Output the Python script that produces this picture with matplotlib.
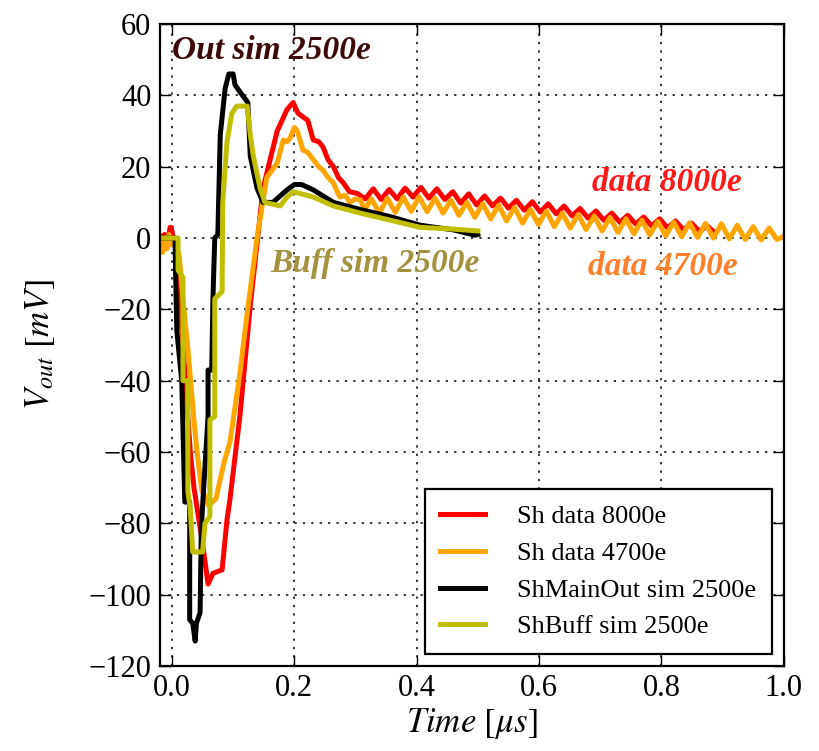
import numpy as np
import matplotlib
matplotlib.use("Agg")
import matplotlib.pyplot as plt

plt.rcParams['font.family'] = ['Liberation Serif', 'DejaVu Serif']
plt.rcParams['mathtext.fontset'] = 'stix'
plt.rcParams['axes.unicode_minus'] = True

# Sh data 8000e: pulse part, then ringing tail (half-period samples)
red_t = [-0.02, -0.012, -0.006, -0.003, -0.001, 0.002, 0.005, 0.008, 0.020, 0.030,
         0.036, 0.045, 0.052, 0.059, 0.067, 0.082, 0.090, 0.095, 0.111, 0.128,
         0.149, 0.172, 0.188, 0.198, 0.206, 0.214, 0.222, 0.231, 0.240, 0.247,
         0.255, 0.264, 0.272, 0.280, 0.290, 0.303]
red_v = [0, 1, 0, 3, 3, 0, 0, -6, -35, -60,
         -70, -80, -88, -97, -94, -93, -79, -73, -50, -19,
         14, 30, 36, 38, 35, 34, 33, 27.5, 27, 25.5,
         22, 20, 17, 15.5, 13, 12.5]
red_tail_t0 = 0.316
red_tail_dt = 0.013
red_tail_v = [11, 13.8, 10.8, 13.6, 11, 14, 11.5, 14.2, 11.2, 13.8,
              10.8, 13, 9.8, 12.4, 9.3, 11.8, 9, 11.2, 8.4, 10.6,
              7.8, 10.2, 7.3, 9.6, 6.8, 9, 6.2, 8.3, 5.6, 7.6,
              5, 7, 4.4, 6.4, 3.9, 5.9, 3.4, 5.4, 2.9, 4.8,
              2.3, 4.2, 1.9, 3.4, 1.4]

# Sh data 4700e
org_t = [-0.02, -0.015, -0.012, -0.008, -0.005, 0.0, 0.005, 0.008, 0.012, 0.018,
         0.026, 0.031, 0.036, 0.041, 0.049, 0.053, 0.060, 0.072, 0.085, 0.095,
         0.111, 0.123, 0.139, 0.155, 0.172, 0.182, 0.188, 0.193, 0.200, 0.205,
         0.214, 0.222, 0.231, 0.240, 0.247, 0.255, 0.264, 0.270, 0.275, 0.283,
         0.291, 0.300, 0.308, 0.315]
org_v = [0, -4, 0, -3, 1, -2, 0, -3, -5, -17,
         -31, -41, -51, -60, -71, -72, -75, -73, -63, -57,
         -38, -21, 0, 17, 21, 27.5, 27, 28, 31, 30,
         24.7, 24, 22, 20, 19, 17, 15.5, 13, 11.5, 12,
         10, 11, 10.7, 8]
org_tail_t0 = 0.326
org_tail_dt = 0.013
org_tail_v = [11, 7, 11.2, 7.2, 11.5, 7.5, 11.6, 7.4, 11.2, 7,
              10.6, 6.4, 10, 5.8, 9.6, 5.4, 9.2, 4.8, 8.6, 4.2,
              8, 3.8, 7.6, 3.2, 7, 2.8, 6.6, 2.4, 6.2, 2,
              5.8, 1.6, 5.4, 1.2, 5, 0.9, 4.7, 0.6, 4.5, 0.4,
              4.3, 0.2, 4.1, 0, 4, -0.2, 3.6, -0.4, 3.2, -0.5,
              2.8, -0.4]

# ShMainOut sim 2500e
blk_t = [-0.02, 0.005, 0.006, 0.008, 0.016, 0.021, 0.029, 0.029, 0.034, 0.038,
         0.040, 0.046, 0.048, 0.059, 0.059, 0.065, 0.067, 0.070, 0.075, 0.079,
         0.087, 0.093, 0.100, 0.103, 0.111, 0.124, 0.128, 0.139, 0.149, 0.165,
         0.188, 0.200, 0.212, 0.231, 0.264, 0.308, 0.357, 0.406, 0.460, 0.495, 0.500]
blk_v = [0, 0, -10, -26, -40, -74, -74, -107, -108, -113,
         -108, -105, -81, -50, -37, -37, -17, 0, 1, 29,
         42, 46, 46, 43, 41, 38, 23, 14, 10, 10,
         13.5, 15, 15, 13.5, 10, 8, 6, 3.6, 2.3, 0.8, 1]

# ShBuff sim 2500e
yel_t = [-0.02, 0.010, 0.010, 0.018, 0.018, 0.026, 0.026, 0.030, 0.034, 0.050,
         0.054, 0.062, 0.062, 0.070, 0.070, 0.082, 0.083, 0.090, 0.098, 0.106,
         0.123, 0.128, 0.133, 0.144, 0.152, 0.177, 0.188, 0.198, 0.231, 0.264,
         0.308, 0.357, 0.406, 0.460, 0.500]
yel_v = [0, 0, -9, -11, -40, -40, -71, -76, -88, -88,
         -80, -78, -51, -50, -17, -15, 10, 27, 35, 37,
         37, 29, 23, 14, 10, 9, 11.5, 13, 11.5, 9,
         7, 5, 3, 2.5, 2]

red_x = red_t + [red_tail_t0 + red_tail_dt * i for i in range(len(red_tail_v))]
red_y = red_v + red_tail_v
org_x = org_t + [org_tail_t0 + org_tail_dt * i for i in range(len(org_tail_v))] + [1.0]
org_y = org_v + org_tail_v + [0.5]

fig = plt.figure(figsize=(8.19, 7.51), dpi=100)
ax = fig.add_axes([0.195, 0.113, 0.762, 0.855])

lw = 3.6
ax.plot(red_x, red_y, color='#ff0000', lw=lw, label='Sh data 8000e')
ax.plot(org_x, org_y, color='#ffa500', lw=lw, label='Sh data 4700e')
ax.plot(blk_t, blk_v, color='black', lw=lw, label='ShMainOut sim 2500e')
ax.plot(yel_t, yel_v, color='#bfbf00', lw=lw, label='ShBuff sim 2500e')

ax.set_xlim(-0.02, 1.0)
ax.set_ylim(-120, 60)
ax.set_xticks([0.0, 0.2, 0.4, 0.6, 0.8, 1.0])
ax.set_yticks(np.arange(-120, 61, 20))
ax.grid(True, color='black', linestyle=(0, (1.5, 4)), lw=1.1)
ax.tick_params(direction='in', top=True, right=True, length=8, width=1, labelsize=22, pad=6)
for s in ax.spines.values():
    s.set_linewidth(1.6)

ax.set_xlabel(r'$Time\ [\mu s]$', fontsize=25, labelpad=2)
ax.set_ylabel(r'$V_{out}\ [mV]$', fontsize=25)
ax.yaxis.set_label_coords(-0.165, 0.5)

ann = dict(fontsize=24, fontweight='bold', fontstyle='italic', va='center')
ax.text(0.0, 52.5, 'Out sim 2500e', color='#3d0a0a', **ann)
ax.text(0.16, -7, 'Buff sim 2500e', color='#a39240', **ann)
ax.text(0.687, 15.5, 'data 8000e', color='#ff1a1a', **ann)
ax.text(0.68, -8, 'data 4700e', color='#ff7f2a', **ann)

leg = ax.legend(loc='lower right', fontsize=19, fancybox=False, framealpha=1,
                edgecolor='black', handlelength=1.7, borderpad=0.6,
                labelspacing=0.5, handletextpad=1.2, borderaxespad=0.45)
leg.get_frame().set_linewidth(1.6)

fig.savefig('out.png', dpi=100)
